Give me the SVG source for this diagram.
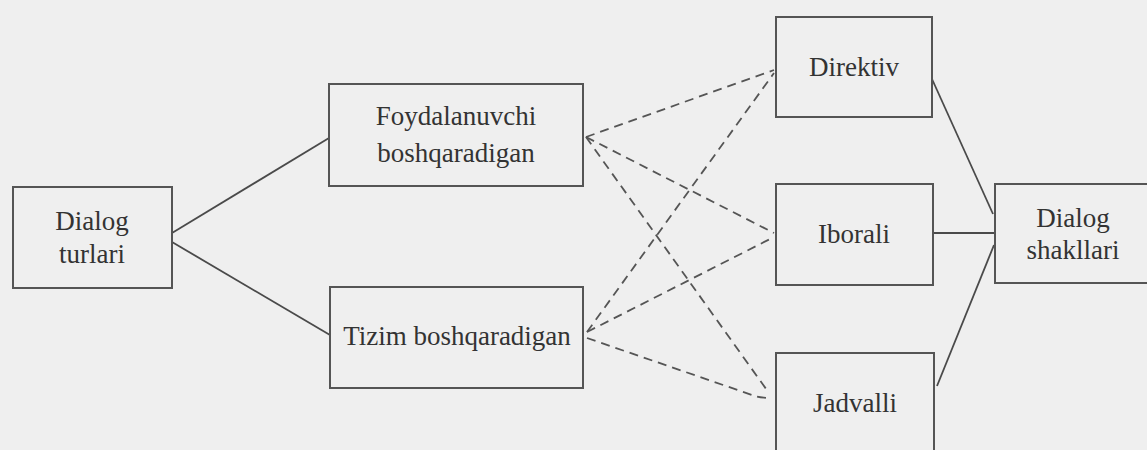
<svg xmlns="http://www.w3.org/2000/svg" width="1147" height="450" viewBox="0 0 1147 450">
<style>
.box{fill:none;stroke:#555;stroke-width:2}
.t{font-family:"Liberation Serif",serif;font-size:27px;fill:#333;text-anchor:middle}
.solid{stroke:#4a4a4a;stroke-width:1.8;fill:none}
.dash{stroke:#555;stroke-width:1.8;fill:none;stroke-dasharray:9 6}
</style>
<rect width="1147" height="450" fill="#efefef"/>
<g id="connectors">
<line class="solid" x1="172" y1="233" x2="329" y2="138"/>
<line class="solid" x1="172" y1="242" x2="330" y2="335"/>
<line class="dash" x1="586" y1="137" x2="774" y2="70"/>
<line class="dash" x1="586" y1="137" x2="774" y2="233"/>
<line class="dash" x1="586" y1="137" x2="769" y2="393"/>
<line class="dash" x1="587" y1="332" x2="774" y2="73"/>
<line class="dash" x1="587" y1="332" x2="774" y2="237"/>
<path class="dash" d="M587 338 L755 396 Q762 398 772 398"/>
<line class="solid" x1="932" y1="79" x2="993" y2="214"/>
<line class="solid" x1="933" y1="233" x2="995" y2="233"/>
<line class="solid" x1="937" y1="386" x2="994" y2="245"/>
</g>
<g id="dialog-turlari">
<rect class="box" x="13" y="187" width="159" height="101"/>
<text class="t" x="92" y="230">Dialog</text>
<text class="t" x="92" y="263">turlari</text>
</g>
<g id="foydalanuvchi">
<rect class="box" x="329" y="84" width="254" height="102"/>
<text class="t" x="456" y="125">Foydalanuvchi</text>
<text class="t" x="456" y="162">boshqaradigan</text>
</g>
<g id="tizim">
<rect class="box" x="330" y="287" width="253" height="101"/>
<text class="t" x="457" y="345">Tizim boshqaradigan</text>
</g>
<g id="direktiv">
<rect class="box" x="776" y="17" width="156" height="100"/>
<text class="t" x="854" y="76">Direktiv</text>
</g>
<g id="iborali">
<rect class="box" x="776" y="184" width="157" height="101"/>
<text class="t" x="854" y="243">Iborali</text>
</g>
<g id="jadvalli">
<rect class="box" x="776" y="353" width="158" height="110"/>
<text class="t" x="855" y="412">Jadvalli</text>
</g>
<g id="dialog-shakllari">
<rect class="box" x="995" y="184" width="160" height="99"/>
<text class="t" x="1073" y="227">Dialog</text>
<text class="t" x="1073" y="259">shakllari</text>
</g>
</svg>
